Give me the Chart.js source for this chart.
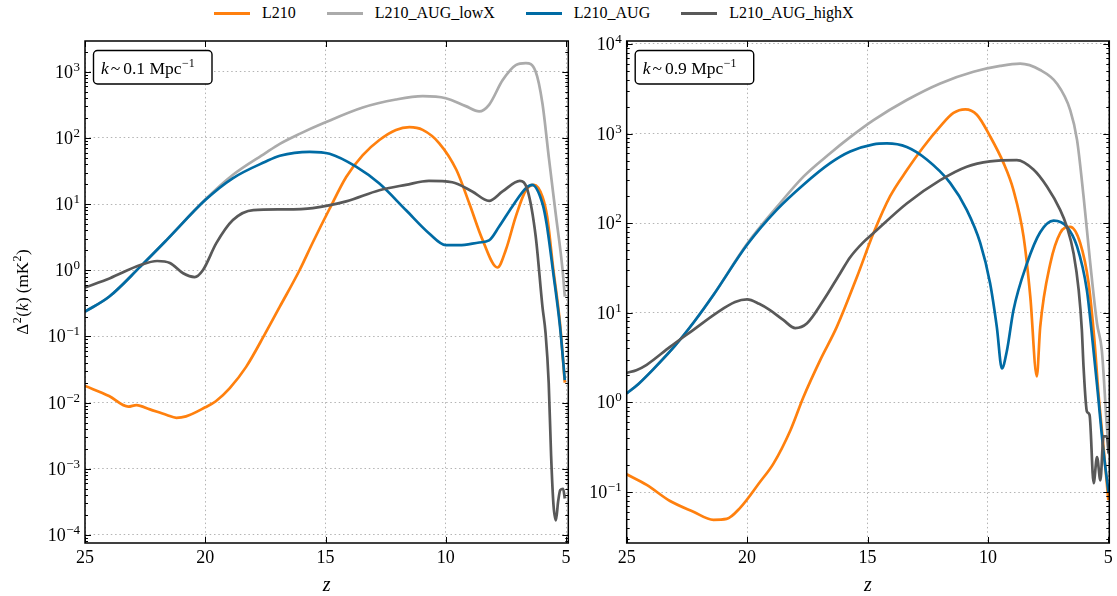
<!DOCTYPE html>
<html>
<head>
<meta charset="utf-8">
<title>Delta^2(k) vs z</title>
<script src="https://cdn.jsdelivr.net/npm/chart.js@4.4.1/dist/chart.umd.min.js"></script>
<style>
  body { margin: 0; background: #fff; font-family: "Liberation Serif", "Times New Roman", serif; }
  #wrap { position: relative; width: 1117px; height: 596px; overflow: hidden; }
  #legend { position: absolute; top: 3px; left: 214px; height: 20px; display: flex; align-items: center;
            font-size: 16px; color: #000; white-space: nowrap; }
  .item { display: flex; align-items: center; margin-right: 31px; }
  .swatch { width: 36px; height: 3px; margin-right: 12px; }
  #cLeft { position: absolute; left: 0; top: 0; }
  #cRight { position: absolute; left: 566px; top: 0; }
</style>
</head>
<body>
<div id="wrap">
  <div id="legend"></div>
  <canvas id="cLeft" width="578" height="596"></canvas>
  <canvas id="cRight" width="551" height="596"></canvas>
</div>
<script>
// ================= DATA =================
const SERIES_NAMES = ["L210", "L210_AUG_lowX", "L210_AUG", "L210_AUG_highX"];
const SERIES_COLORS = ["#FF800E", "#ABABAB", "#006BA4", "#595959"];
const X_TICKS = [5, 10, 15, 20, 25];

// ---- k ~ 0.1 Mpc^-1 ----
const Z_L210_K01 = [25, 24, 23.2, 22.86, 22.3, 21.6, 21.2, 20.8, 20.0, 19.56, 18.98, 18.3, 17.5, 16.9, 16.08, 15.53, 14.83, 14.14, 13.45, 12.76, 12.07, 11.51, 10.96, 10.27, 9.56, 9.02, 8.47, 7.85, 7.5, 7.09, 6.67, 6.33, 5.98, 5.78, 5.53, 5.25, 5.05];
const L210_K01 = [0.0179, 0.0126, 0.0087, 0.0092, 0.0079, 0.0065, 0.0059, 0.0062, 0.0085, 0.0105, 0.0166, 0.0347, 0.112, 0.282, 1.0, 2.63, 8.5, 25.7, 55, 93, 132, 145, 132, 83, 33, 10.2, 2.88, 1.1, 2.04, 6.46, 16.2, 19.5, 12.9, 6.31, 1.05, 0.158, 0.02];

const Z_LOWX_K01 = [25, 24, 22.7, 21.6, 20.0, 18.86, 17.5, 16.9, 16.08, 15.1, 13.45, 12.07, 10.96, 10.0, 9.17, 8.61, 8.2, 7.64, 7.09, 6.67, 6.26, 5.98, 5.71, 5.43, 5.15, 5.05];
const LOWX_K01 = [0.237, 0.398, 1.135, 2.88, 11.7, 27.5, 58.9, 81.3, 115, 166, 288, 380, 427, 398, 302, 251, 316, 741, 1259, 1349, 1000, 331, 49, 7.2, 1.07, 0.40];

const Z_AUG_K01 = [25, 24, 22.7, 21.6, 20.0, 18.86, 17.5, 16.9, 15.66, 14.83, 13.73, 12.76, 11.66, 10.7, 10.0, 9.44, 8.61, 8.2, 7.78, 7.24, 6.67, 6.41, 5.98, 5.81, 5.53, 5.25, 5.05];
const AUG_K01 = [0.237, 0.398, 1.135, 2.88, 11.5, 24.5, 43.6, 53.7, 61.7, 57.5, 36.7, 20.4, 8.13, 3.63, 2.40, 2.40, 2.63, 2.82, 4.57, 9.12, 17.4, 19.5, 10.2, 5.13, 0.91, 0.141, 0.0219];

const Z_HIGHX_K01 = [25, 23.96, 22.7, 22.0, 21.47, 20.92, 20.44, 20.1, 19.54, 18.85, 18.0, 16.77, 15.53, 14.14, 12.76, 11.66, 10.7, 9.73, 8.9, 8.2, 7.64, 6.92, 6.6, 6.26, 5.98, 5.85, 5.72, 5.62, 5.52, 5.42, 5.33, 5.24, 5.12, 5.05];
const HIGHX_K01 = [0.55, 0.76, 1.20, 1.38, 1.29, 0.90, 0.79, 1.0, 2.57, 5.75, 8.13, 8.32, 8.71, 11.0, 16.2, 19.5, 22.4, 21.4, 15.5, 11.2, 15.5, 22.4, 16.2, 3.24, 0.282, 0.112, 0.02, 0.00158, 0.000282, 0.000166, 0.000316, 0.000479, 0.0005, 0.000355];

// ---- k ~ 0.9 Mpc^-1 ----
const Z_L210_K09 = [25, 24.17, 23.2, 22.23, 21.4, 20.85, 20.3, 19.46, 18.9, 18.2, 17.66, 16.97, 16.28, 15.44, 14.75, 14.06, 13.37, 12.68, 11.98, 11.43, 10.94, 10.46, 9.91, 9.35, 8.94, 8.52, 8.24, 7.97, 7.83, 7.41, 7.0, 6.58, 6.17, 5.82, 5.58, 5.41, 5.2, 5.0];
const L210_K09 = [0.158, 0.120, 0.0794, 0.0603, 0.049, 0.0501, 0.0661, 0.130, 0.209, 0.490, 1.15, 2.95, 6.92, 25.1, 77.6, 200, 389, 708, 1202, 1698, 1862, 1622, 933, 468, 234, 70.8, 15.1, 1.95, 6.92, 35.5, 77.6, 91.2, 60.3, 21.4, 5.01, 1.26, 0.316, 0.0813];

const Z_LOWX_K09 = [25, 24.5, 23.9, 23.0, 22.2, 21.4, 20.0, 18.77, 17.66, 16.55, 15.72, 14.75, 13.37, 11.98, 10.6, 9.49, 8.66, 7.83, 7.14, 6.58, 6.3, 6.03, 5.75, 5.47, 5.27, 5.06, 4.99];
const LOWX_K09 = [1.26, 1.62, 2.34, 4.27, 7.94, 15.8, 58.9, 151, 331, 603, 912, 1413, 2371, 3631, 4898, 5689, 6026, 5129, 3631, 1820, 851, 200, 35.5, 7.59, 3.80, 0.537, 0.324];

const Z_AUG_K09 = [25, 24.5, 23.9, 23.0, 22.2, 21.4, 20.0, 18.77, 17.66, 16.55, 15.72, 14.75, 14.2, 13.37, 12.54, 11.57, 10.88, 10.32, 9.91, 9.63, 9.42, 9.21, 8.94, 8.38, 7.83, 7.27, 6.72, 6.3, 5.89, 5.68, 5.47, 5.2, 4.99];
const AUG_K09 = [1.26, 1.62, 2.34, 4.27, 7.94, 15.8, 57.5, 141, 269, 468, 631, 759, 776, 708, 513, 282, 141, 60.3, 21.4, 6.92, 2.40, 3.80, 10.7, 35.5, 79.4, 107, 91.2, 55, 17.8, 5.62, 1.58, 0.282, 0.098];

const Z_HIGHX_K09 = [25, 24.6, 24.17, 23.2, 22.23, 21.26, 20.5, 20.0, 19.5, 19.05, 18.5, 18.0, 17.52, 16.83, 16.14, 15.72, 15.2, 14.75, 13.37, 11.98, 10.88, 9.91, 8.8, 8.11, 7.55, 7.0, 6.72, 6.44, 6.23, 6.1, 6.03, 5.89, 5.78, 5.61, 5.47, 5.33, 5.2, 5.06, 4.99];
const HIGHX_K09 = [2.14, 2.29, 2.63, 4.17, 6.46, 10, 13.2, 14.1, 12.6, 10.7, 8.32, 6.76, 7.59, 13.8, 27.5, 41.7, 60.3, 77.6, 166, 302, 427, 490, 507, 398, 257, 141, 91.2, 45.7, 17.8, 6.46, 2.51, 0.794, 0.724, 0.126, 0.245, 0.135, 0.417, 0.417, 0.269];

// ================= STYLE =================
const SERIF = '"Liberation Serif", "Times New Roman", serif';
const GRID = "#b4b4b4";

// ================= LEGEND (html) =================
const legendEl = document.getElementById("legend");
SERIES_NAMES.forEach((name, i) => {
  const item = document.createElement("div");
  item.className = "item";
  item.innerHTML = `<span class="swatch" style="background:${SERIES_COLORS[i]}"></span><span>${name}</span>`;
  legendEl.appendChild(item);
});

// ================= HELPERS =================
function drawPieces(ctx, pieces, x, base) {
  pieces.forEach(p => {
    ctx.font = `${p.it ? "italic " : ""}${p.size}px ${SERIF}`;
    ctx.fillText(p.t, x, base - (p.up || 0));
    x += ctx.measureText(p.t).width + (p.gap || 0);
  });
  return x;
}

function piecesWidth(ctx, pieces) {
  let w = 0;
  pieces.forEach(p => {
    ctx.font = `${p.it ? "italic " : ""}${p.size}px ${SERIF}`;
    w += ctx.measureText(p.t).width + (p.gap || 0);
  });
  return w;
}

function powLabel(e) {
  return [
    { t: "10", size: 18, gap: 0.5 },
    { t: e < 0 ? "\u2212" + (-e) : String(e), size: 13, up: 7 }
  ];
}

function roundBox(ctx, x, y, w, h, r) {
  ctx.beginPath();
  ctx.moveTo(x + r, y);
  ctx.arcTo(x + w, y, x + w, y + h, r);
  ctx.arcTo(x + w, y + h, x, y + h, r);
  ctx.arcTo(x, y + h, x, y, r);
  ctx.arcTo(x, y, x + w, y, r);
  ctx.closePath();
}

// ================= PLUGIN: frame, inward ticks, labels =================
const panelDecor = {
  id: "panelDecor",
  afterDraw(chart, args, opts) {
    const { ctx, chartArea: a } = chart;
    const xs = chart.scales.x, ys = chart.scales.y;
    ctx.save();
    ctx.strokeStyle = "#000";
    ctx.fillStyle = "#000";

    // ticks pointing inward, all four sides
    ctx.lineWidth = 1;
    ctx.beginPath();
    X_TICKS.forEach(v => {
      const px = Math.round(xs.getPixelForValue(v)) + 0.5;
      ctx.moveTo(px, a.bottom); ctx.lineTo(px, a.bottom - 6);
      ctx.moveTo(px, a.top); ctx.lineTo(px, a.top + 6);
    });
    const e0 = Math.floor(Math.log10(ys.min));
    const e1 = Math.ceil(Math.log10(ys.max));
    for (let e = e0; e <= e1; e++) {
      for (let m = 1; m <= 9; m++) {
        const v = m * Math.pow(10, e);
        if (v < ys.min || v > ys.max) continue;
        const py = Math.round(ys.getPixelForValue(v)) + 0.5;
        const len = m === 1 ? 6 : 3;
        ctx.moveTo(a.left, py); ctx.lineTo(a.left + len, py);
        ctx.moveTo(a.right, py); ctx.lineTo(a.right - len, py);
      }
    }
    ctx.stroke();

    // frame
    ctx.lineWidth = 1.5;
    ctx.strokeRect(a.left, a.top, a.right - a.left, a.bottom - a.top);

    // y tick labels 10^n
    ctx.textAlign = "left";
    ctx.textBaseline = "alphabetic";
    for (let e = e0; e <= e1; e++) {
      const v = Math.pow(10, e);
      if (v < ys.min || v > ys.max) continue;
      const py = ys.getPixelForValue(v);
      const pcs = powLabel(e);
      const w = piecesWidth(ctx, pcs);
      drawPieces(ctx, pcs, a.left - 5 - w, py + 6);
    }

    // annotation box
    const bx = a.left + 8.5, by = 50.5, bw = 118.5, bh = 33.5;
    roundBox(ctx, bx, by, bw, bh, 4);
    ctx.fillStyle = "#fff";
    ctx.fill();
    ctx.lineWidth = 1.4;
    ctx.stroke();
    ctx.fillStyle = "#000";
    drawPieces(ctx, [
      { t: "k", size: 17.5, it: true, gap: 2 },
      { t: "~", size: 17.5, gap: 3 },
      { t: opts.k, size: 17.5 },
      { t: " Mpc", size: 17.5, gap: 0.5 },
      { t: "\u22121", size: 12, up: 6.5 }
    ], bx + 7.5, by + 23);

    // y axis title
    if (opts.yTitle) {
      const pcs = [
        { t: "\u0394", size: 17, gap: 0.5 },
        { t: "2", size: 12, up: 7, gap: 0.5 },
        { t: "(", size: 17 },
        { t: "k", size: 17, it: true, gap: 0.5 },
        { t: ") (mK", size: 17, gap: 0.5 },
        { t: "2", size: 12, up: 7, gap: 0.5 },
        { t: ")", size: 17 }
      ];
      const w = piecesWidth(ctx, pcs);
      ctx.translate(22, (a.top + a.bottom) / 2);
      ctx.rotate(-Math.PI / 2);
      drawPieces(ctx, pcs, -w / 2, 6);
    }
    ctx.restore();
  }
};

// ================= CHART =================
function makePanel(id, cfg) {
  const ctx = document.getElementById(id).getContext("2d");
  const decades = [];
  for (let e = Math.ceil(Math.log10(cfg.yMin)); e <= Math.floor(Math.log10(cfg.yMax)); e++) {
    decades.push(Math.pow(10, e));
  }

  return new Chart(ctx, {
    type: "line",
    data: {
      datasets: cfg.series.map((s, i) => ({
        label: SERIES_NAMES[i],
        data: s.z.map((z, j) => ({ x: z, y: s.v[j] })),
        borderColor: SERIES_COLORS[i],
        backgroundColor: SERIES_COLORS[i],
        borderWidth: 2.7,
        pointRadius: 0,
        fill: false,
        cubicInterpolationMode: "monotone",
        order: 4 - i
      }))
    },
    plugins: [panelDecor],
    options: {
      responsive: false,
      animation: false,
      devicePixelRatio: 1,
      layout: { padding: { top: 41, right: cfg.padRight, left: 0, bottom: 0 } },
      plugins: {
        legend: { display: false },
        tooltip: { enabled: false },
        panelDecor: { k: cfg.k, yTitle: cfg.yTitle }
      },
      scales: {
        x: {
          type: "linear",
          reverse: true,
          min: cfg.xMin,
          max: 25,
          afterBuildTicks: s => { s.ticks = X_TICKS.map(v => ({ value: v })); },
          afterFit: s => { s.height = 53; s.paddingLeft = 0; s.paddingRight = 0; },
          grid: { color: GRID, lineWidth: 1, drawTicks: false },
          border: { display: false, dash: [1.5, 2.8] },
          ticks: { color: "#000", font: { family: SERIF, size: 18 }, padding: 4, maxRotation: 0, autoSkip: false },
          title: {
            display: true, text: "z", color: "#000", padding: 0,
            font: { family: SERIF, size: 20, style: "italic", lineHeight: 1 }
          }
        },
        y: {
          type: "logarithmic",
          min: cfg.yMin,
          max: cfg.yMax,
          afterBuildTicks: s => { s.ticks = decades.map(v => ({ value: v })); },
          afterFit: s => { s.width = cfg.yWidth; s.paddingTop = 0; s.paddingBottom = 0; },
          grid: { color: GRID, lineWidth: 1, drawTicks: false },
          border: { display: false, dash: [1.5, 2.8] },
          ticks: { display: false }
        }
      }
    }
  });
}

makePanel("cLeft", {
  k: "0.1",
  yTitle: true,
  xMin: 4.905,
  yMin: 7.57e-5,
  yMax: 2911,
  yWidth: 85,
  padRight: 9.7,
  series: [
    { z: Z_L210_K01, v: L210_K01 },
    { z: Z_LOWX_K01, v: LOWX_K01 },
    { z: Z_AUG_K01, v: AUG_K01 },
    { z: Z_HIGHX_K01, v: HIGHX_K01 }
  ]
});

makePanel("cRight", {
  k: "0.9",
  yTitle: false,
  xMin: 4.96,
  yMin: 0.02698,
  yMax: 10800,
  yWidth: 60.7,
  padRight: 7.7,
  series: [
    { z: Z_L210_K09, v: L210_K09 },
    { z: Z_LOWX_K09, v: LOWX_K09 },
    { z: Z_AUG_K09, v: AUG_K09 },
    { z: Z_HIGHX_K09, v: HIGHX_K09 }
  ]
});
</script>
</body>
</html>
